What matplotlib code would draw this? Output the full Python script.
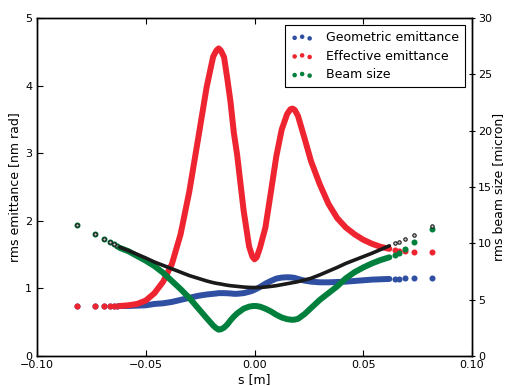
import numpy as np
import matplotlib.pyplot as plt

# longitudinal position [m]
s = np.array([-0.0815, -0.0733, -0.0691, -0.0665, -0.0647, -0.0632, -0.062,
              -0.058, -0.054, -0.05, -0.046, -0.042, -0.038, -0.034, -0.030,
              -0.026, -0.022, -0.019, -0.0175, -0.0165, -0.0155, -0.014, -0.0125,
              -0.011, -0.0095, -0.008, -0.005,
              -0.0025, -0.001, 0.0, 0.001, 0.0025, 0.005, 0.0075, 0.010, 0.0125,
              0.015, 0.0165, 0.0175, 0.0185,
              0.020, 0.023, 0.026, 0.030, 0.034, 0.038, 0.042, 0.046, 0.050,
              0.054, 0.058, 0.062, 0.0647, 0.0665, 0.0691, 0.0733, 0.0815])

# rms emittance [nm rad]
geo_emit = np.array([0.74, 0.74, 0.74, 0.74, 0.74, 0.74, 0.74,
                     0.74, 0.745, 0.75, 0.77, 0.78, 0.80, 0.83, 0.86,
                     0.89, 0.91, 0.92, 0.925, 0.93, 0.93, 0.93, 0.928,
                     0.925, 0.92, 0.92, 0.93,
                     0.95, 0.965, 0.98, 0.995, 1.02, 1.07, 1.11, 1.145, 1.16,
                     1.165, 1.163, 1.16, 1.155,
                     1.14, 1.115, 1.10, 1.09, 1.09, 1.095, 1.10, 1.11, 1.12,
                     1.13, 1.135, 1.14, 1.145, 1.145, 1.15, 1.15, 1.15])
eff_emit = np.array([0.74, 0.74, 0.74, 0.74, 0.74, 0.74, 0.74,
                     0.75, 0.77, 0.82, 0.93, 1.10, 1.36, 1.80, 2.43,
                     3.20, 3.98, 4.43, 4.52, 4.55, 4.52, 4.42, 4.10,
                     3.75, 3.30, 2.98, 2.15,
                     1.62, 1.47, 1.43, 1.46, 1.60, 1.90, 2.42, 2.95, 3.35,
                     3.58, 3.65, 3.66, 3.64,
                     3.55, 3.22, 2.88, 2.54, 2.25, 2.04, 1.90, 1.80, 1.72,
                     1.66, 1.615, 1.585, 1.565, 1.555, 1.55, 1.54, 1.54])

# rms beam size [micron]
beam_size = np.array([11.64, 10.8, 10.38, 10.08, 9.9, 9.78, 9.6,
                      9.3, 8.88, 8.46, 7.98, 7.38, 6.66, 5.94, 5.16,
                      4.26, 3.36, 2.7, 2.45, 2.34, 2.37, 2.52, 2.8,
                      3.18, 3.5, 3.78, 4.2,
                      4.38, 4.43, 4.44, 4.43, 4.38, 4.2, 3.96, 3.66, 3.42,
                      3.27, 3.23, 3.21, 3.23,
                      3.3, 3.72, 4.26, 4.98, 5.58, 6.18, 6.9, 7.44, 7.86,
                      8.22, 8.52, 8.76, 8.94, 9.18, 9.48, 10.08, 11.28])
beam_size_2 = np.array([11.64, 10.8, 10.38, 10.08, 9.9, 9.78, 9.66,
                        9.36, 9.03, 8.7, 8.34, 8.04, 7.74, 7.44, 7.14,
                        6.9, 6.66, 6.51, 6.45, 6.42, 6.39, 6.33, 6.28,
                        6.24, 6.21, 6.18, 6.12,
                        6.09, 6.08, 6.08, 6.08, 6.09, 6.12, 6.18, 6.24, 6.33,
                        6.42, 6.47, 6.51, 6.54,
                        6.6, 6.75, 6.9, 7.2, 7.53, 7.86, 8.22, 8.52, 8.82,
                        9.12, 9.45, 9.78, 9.99, 10.14, 10.38, 10.74, 11.58])

blue = '#2f4fa2'
red = '#ee2530'
green = '#00803c'

plt.rcParams['font.family'] = 'DejaVu Sans'

fig = plt.figure(figsize=(5.05, 3.86), dpi=100)
ax = fig.add_axes([0.0733, 0.0777, 0.8614, 0.8757])
ax2 = ax.twinx()

inner = np.abs(s) <= 0.0625
ends = ~inner
line_kw = dict(solid_capstyle='round', solid_joinstyle='round')

# emittances on left axis
ax.plot(s[inner], geo_emit[inner], '-', color=blue, lw=4.3, **line_kw)
h1 = ax.scatter(s[ends], geo_emit[ends], s=19, color=blue, lw=0,
                label='Geometric emittance')
ax.plot(s[inner], eff_emit[inner], '-', color=red, lw=4.3, **line_kw)
h2 = ax.scatter(s[ends], eff_emit[ends], s=19, color=red, lw=0,
                label='Effective emittance')

# beam sizes on right axis
ax2.plot(s[inner], beam_size[inner], '-', color=green, lw=4.3, **line_kw)
h3 = ax2.scatter(s[ends], beam_size[ends], s=19, color=green, lw=0,
                 label='Beam size')
ax2.plot(s[inner], beam_size_2[inner], '-', color='#1a1a1a', lw=2.6, **line_kw)
ax2.scatter(s[ends], beam_size_2[ends], s=6, facecolor='#c8c8c8',
            edgecolor='#1a1a1a', lw=0.8)

ax.set_xlim(-0.10, 0.10)
ax.set_ylim(0, 5)
ax2.set_ylim(0, 30)
ax.set_xticks([-0.10, -0.05, 0.0, 0.05, 0.10])
ax.set_yticks([0, 1, 2, 3, 4, 5])
ax2.set_yticks([0, 5, 10, 15, 20, 25, 30])

ax.set_xlabel('s [m]', fontsize=9, labelpad=2)
ax.set_ylabel('rms emittance [nm rad]', fontsize=9, labelpad=3)
ax2.set_ylabel('rms beam size [micron]', fontsize=9, labelpad=0)

ax.tick_params(axis='both', direction='in', length=4, width=0.8,
               labelsize=8, top=True, color='black')
ax.tick_params(axis='x', pad=3)
ax2.tick_params(axis='y', direction='inout', length=5, width=0.8,
                labelsize=8, pad=2)

for a in (ax, ax2):
    for sp in a.spines.values():
        sp.set_color('black')
        sp.set_linewidth(1.0)

leg = ax2.legend(handles=[h1, h2, h3], loc='upper right', fontsize=9,
                 scatterpoints=3, markerscale=0.75, fancybox=False,
                 framealpha=1, edgecolor='black', handlelength=1.8,
                 handletextpad=1.0, borderpad=0.45, labelspacing=0.45,
                 borderaxespad=0.6)
leg.get_frame().set_linewidth(0.8)

fig.savefig('out.png', dpi=100)
